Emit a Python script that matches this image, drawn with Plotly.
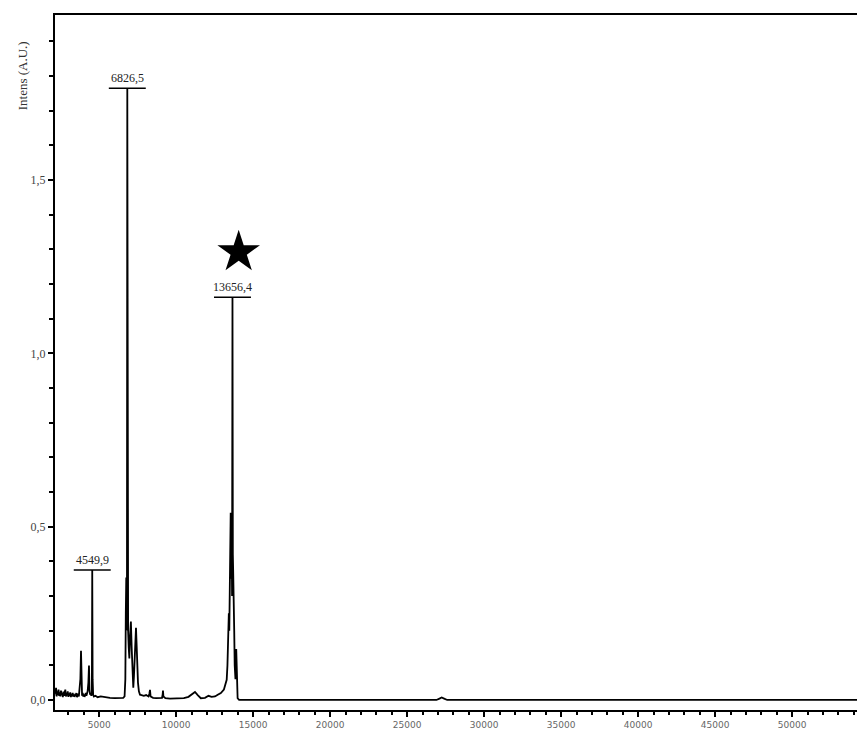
import plotly.graph_objects as go

# ---- data (m/z, intensity in A.U.) ----
mz = [2000, 2040, 2080, 2120, 2160, 2200, 2240, 2280, 2320, 2360, 2400, 2440, 2480, 2520,
      2560, 2600, 2640, 2680, 2720, 2760, 2800, 2840, 2880, 2920, 2960, 3000, 3040, 3080,
      3120, 3160, 3200, 3240, 3280, 3320, 3360, 3400, 3440, 3480, 3520, 3560, 3600, 3640,
      3680, 3720, 3780, 3820, 3860, 3890, 3930, 3970, 4010, 4050, 4090, 4130, 4170, 4210,
      4250, 4300, 4339, 4370, 4410, 4450, 4490, 4525, 4549.9, 4575, 4610, 4660, 4760, 4900,
      5100, 5400, 5700, 6000, 6300, 6560, 6650, 6700, 6730, 6760, 6790, 6805, 6826.5, 6850,
      6880, 6920, 6960, 7000, 7060, 7112, 7160, 7216, 7260, 7320, 7391, 7440, 7476, 7520,
      7580, 7650, 7750, 7900, 8050, 8200, 8260, 8300, 8340, 8500, 8700, 8900, 9080, 9120,
      9145, 9170, 9300, 9600, 9900, 10200, 10500, 10800, 11000, 11222, 11400, 11600, 11872,
      12100, 12300, 12521, 12700, 12900, 13100, 13200, 13281, 13330, 13385, 13420, 13450,
      13480, 13500, 13541, 13570, 13600, 13630, 13656.4, 13680, 13700, 13720, 13745, 13770,
      13800, 13850, 13900, 13937, 13990, 14086,
      20000, 26900, 27100, 27242, 27400, 27600, 40000, 56000]
intensity = [0.020, 0.030, 0.012, 0.028, 0.018, 0.035, 0.010, 0.025, 0.015, 0.030, 0.012,
             0.022, 0.010, 0.027, 0.014, 0.020, 0.008, 0.024, 0.012, 0.018, 0.030, 0.010,
             0.020, 0.013, 0.025, 0.009, 0.019, 0.012, 0.022, 0.008, 0.017, 0.011, 0.020,
             0.010, 0.016, 0.009, 0.014, 0.012, 0.020, 0.008, 0.013, 0.018, 0.010, 0.030,
             0.060, 0.142, 0.030, 0.012, 0.020, 0.010, 0.016, 0.009, 0.014, 0.020, 0.012,
             0.018, 0.025, 0.050, 0.099, 0.030, 0.015, 0.020, 0.012, 0.020, 0.375, 0.060,
             0.015, 0.010, 0.012, 0.008, 0.010, 0.007, 0.006, 0.005, 0.005, 0.006, 0.010,
             0.060, 0.250, 0.353, 0.200, 0.300, 1.765, 0.330, 0.200, 0.150, 0.120, 0.180,
             0.226, 0.150, 0.060, 0.035, 0.070, 0.160, 0.208, 0.150, 0.087, 0.050, 0.025,
             0.015, 0.014, 0.012, 0.014, 0.010, 0.018, 0.029, 0.010, 0.006, 0.005, 0.006,
             0.006, 0.015, 0.027, 0.010, 0.005, 0.004, 0.005, 0.006, 0.005, 0.009, 0.016,
             0.023, 0.014, 0.005, 0.006, 0.012, 0.009, 0.010, 0.015, 0.020, 0.030, 0.050,
             0.058, 0.100, 0.200, 0.250, 0.200, 0.380, 0.330, 0.540, 0.350, 0.500, 0.300,
             1.162, 0.420, 0.376, 0.250, 0.360, 0.200, 0.100, 0.060, 0.147, 0.050, 0.005,
             0.000, 0.000, 0.000, 0.004, 0.007, 0.004, 0.000, 0.000, 0.000]

peak_labels = ["4549,9", "6826,5", "13656,4"]
peak_mz = [4549.9, 6826.5, 13656.4]
peak_int = [0.375, 1.765, 1.162]

star_mz = [14060]
star_int = [1.292]

x_tick_vals = [5000, 10000, 15000, 20000, 25000, 30000, 35000, 40000, 45000, 50000]
x_tick_text = ["5000", "10000", "15000", "20000", "25000", "30000", "35000", "40000", "45000", "50000"]
y_tick_vals = [0.0, 0.5, 1.0, 1.5]
y_tick_text = ["0,0", "0,5", "1,0", "1,5"]

fig = go.Figure()
fig.add_trace(go.Scatter(x=mz, y=intensity, mode="lines",
                         line=dict(color="black", width=1.8), hoverinfo="skip"))
fig.add_trace(go.Scatter(x=star_mz, y=star_int, mode="markers",
                         marker=dict(symbol="star", size=32, color="black"), hoverinfo="skip"))

for lab, px, py in zip(peak_labels, peak_mz, peak_int):
    fig.add_shape(type="line", xref="x", yref="y", x0=px - 1200, x1=px + 1200, y0=py, y1=py,
                  line=dict(color="black", width=1.5))
    fig.add_annotation(x=px, y=py, text=lab, showarrow=False, yanchor="bottom", yshift=1,
                       font=dict(family="Liberation Serif", size=12, color="#222"))

fig.add_annotation(xref="paper", yref="paper", x=-0.041, y=0.912, text="Intens (A.U.)",
                   textangle=-90, showarrow=False, xanchor="center", yanchor="middle",
                   font=dict(family="Liberation Serif", size=13, color="#333"))

fig.update_xaxes(range=[2132, 54210], showgrid=False, zeroline=False,
                 showline=True, linecolor="black", linewidth=2, mirror=True,
                 ticks="outside", ticklen=5, tickwidth=2, tickcolor="black",
                 tickvals=x_tick_vals, ticktext=x_tick_text,
                 tickfont=dict(family="DejaVu Sans", size=9, color="#666"),
                 minor=dict(dtick=1000, tick0=0, ticks="outside", ticklen=3, tickwidth=2,
                            tickcolor="black"))
fig.update_yaxes(range=[-0.029, 1.976], showgrid=False, zeroline=False,
                 showline=True, linecolor="black", linewidth=2, mirror=False,
                 ticks="outside", ticklen=5, tickwidth=2, tickcolor="black",
                 tickvals=y_tick_vals, ticktext=y_tick_text,
                 tickfont=dict(family="Liberation Serif", size=12, color="#444"),
                 minor=dict(dtick=0.1, tick0=0, ticks="outside", ticklen=4, tickwidth=2,
                            tickcolor="black"))

fig.update_layout(width=857, height=729, margin=dict(l=55, r=0, t=15, b=19),
                  paper_bgcolor="white", plot_bgcolor="white", showlegend=False)

fig.write_html("out.html", config={"displayModeBar": False},
               post_script="document.body.style.margin='0';")
